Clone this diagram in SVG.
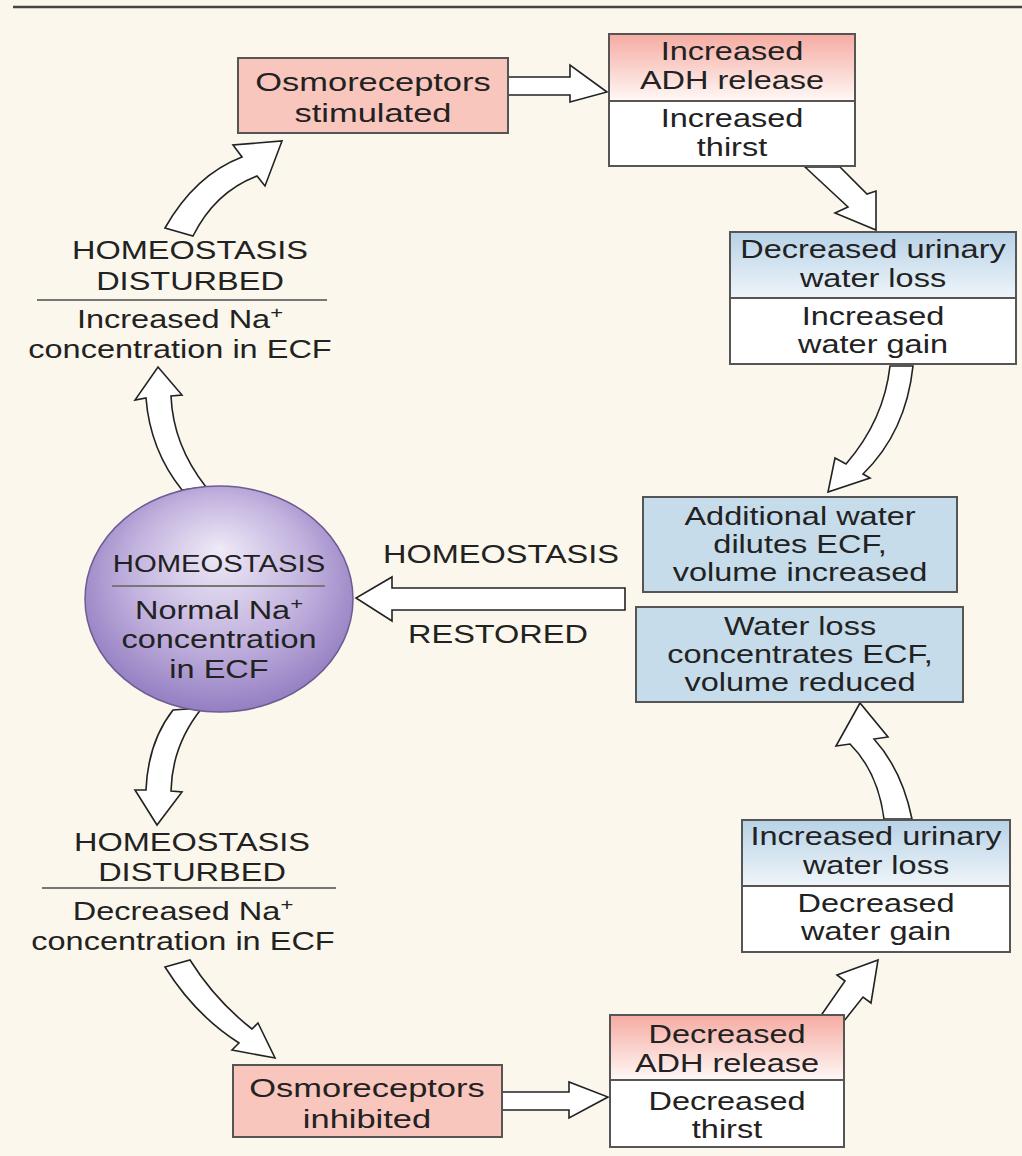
<svg xmlns="http://www.w3.org/2000/svg" width="1022" height="1156" viewBox="0 0 1022 1156">
<defs>
<linearGradient id="pinkTop" x1="0" y1="0" x2="0" y2="1"><stop offset="0" stop-color="#f5aba2"/><stop offset="1" stop-color="#fff8f6"/></linearGradient>
<linearGradient id="blueTop" x1="0" y1="0" x2="0" y2="1"><stop offset="0" stop-color="#b8d2e7"/><stop offset="1" stop-color="#eef5f9"/></linearGradient>
<radialGradient id="sphere" cx="0.5" cy="0.45" r="0.6" fx="0.5" fy="0.28"><stop offset="0" stop-color="#efeaf7"/><stop offset="0.55" stop-color="#c2b2de"/><stop offset="1" stop-color="#8c76bd"/></radialGradient>
<style>
.t{font-family:"Liberation Sans",Arial,Helvetica,sans-serif;font-size:25px;fill:#222;text-anchor:middle}
.big{font-size:26.5px}
.box{stroke:#555;stroke-width:2}
.pink{fill:#f9c6bd}
.blue{fill:#c6dcea}
.white{fill:#fff}
.div{stroke:#555;stroke-width:2}
.rule{stroke:#777;stroke-width:2}
.arrow{fill:#fff;stroke:#222;stroke-width:1.6;stroke-linejoin:miter}
</style>
</defs>
<rect x="0" y="0" width="1022" height="1156" fill="#fbf7ec"/>
<line x1="13" y1="7" x2="1022" y2="7" stroke="#444" stroke-width="2.5"/>

<g id="connectors">
<path class="arrow" d="M508,77 L570,77 L570,65 L607,92 L570,102 L570,95 L508,95 Z"/>
<path class="arrow" d="M805,167 L848,207 L835,213 L876,230 L876,191 L867,194 L840,167 Z"/>
<path class="arrow" d="M890,366 L913,366 Q906,432 863,474 L870,478 L828,492 L835,458 L846,464 Q884,420 890,366 Z"/>
<path class="arrow" d="M625,588 L392,588 L392,577 L356,598 L392,621 L392,610 L625,610 Z"/>
<path class="arrow" d="M182,490 Q150,450 146,398 L135,400 L158,367 L182,395 L171,396 Q173,445 206,487 Z"/>
<path class="arrow" d="M165,228 Q195,175 242,157 L233,145 L282,141 L265,186 L257,176 Q215,192 193,236 Z"/>
<path class="arrow" d="M173,710 L202,708 Q172,745 171,791 L182,792 L157,825 L135,790 L146,790 Q148,742 173,710 Z"/>
<path class="arrow" d="M165,967 L190,960 Q215,1000 252,1029 L258,1023 L275,1058 L232,1050 L239,1043 Q195,1015 165,967 Z"/>
<path class="arrow" d="M502,1092 L569,1092 L569,1082 L608,1097 L569,1118 L569,1110 L502,1110 Z"/>
<path class="arrow" d="M820,1017 L845,981 L837,975 L878,960 L871,1003 L863,997 L844,1021 Z"/>
<path class="arrow" d="M884,819 Q878,772 850,744 L836,746 L860,703 L888,737 L874,739 Q902,770 912,819 Z"/>
</g>

<g id="restored-label">
<text class="t" transform="translate(501,563) scale(1.3,1)">HOMEOSTASIS</text>
<text class="t" transform="translate(498,643) scale(1.3,1)">RESTORED</text>
</g>

<g id="homeostasis">
<ellipse cx="219" cy="599" rx="134" ry="113" fill="url(#sphere)" stroke="#6d5c92" stroke-width="1.5"/>
<text class="t" style="font-size:24px" transform="translate(219,572) scale(1.22,1)">HOMEOSTASIS</text>
<line class="rule" x1="112" y1="586" x2="325" y2="586" stroke="#444"/>
<text class="t" transform="translate(219,619) scale(1.3,1)">Normal Na<tspan font-size="17" dy="-10">+</tspan></text>
<text class="t" transform="translate(219,648) scale(1.3,1)">concentration</text>
<text class="t" transform="translate(219,678) scale(1.3,1)">in ECF</text>
</g>

<g id="disturbed-up">
<text class="t" transform="translate(190,259) scale(1.3,1)">HOMEOSTASIS</text>
<text class="t" transform="translate(190,290) scale(1.3,1)">DISTURBED</text>
<line class="rule" x1="37" y1="300" x2="327" y2="300"/>
<text class="t" transform="translate(180,328) scale(1.3,1)">Increased Na<tspan font-size="17" dy="-10">+</tspan></text>
<text class="t" transform="translate(180,358) scale(1.3,1)">concentration in ECF</text>
</g>

<g id="disturbed-down">
<text class="t" transform="translate(192,851) scale(1.3,1)">HOMEOSTASIS</text>
<text class="t" transform="translate(192,881) scale(1.3,1)">DISTURBED</text>
<line class="rule" x1="42" y1="888" x2="336" y2="888"/>
<text class="t" transform="translate(183,920) scale(1.3,1)">Decreased Na<tspan font-size="17" dy="-10">+</tspan></text>
<text class="t" transform="translate(183,950) scale(1.3,1)">concentration in ECF</text>
</g>

<g id="osmo-stimulated">
<rect class="box pink" x="238" y="58" width="270" height="75"/>
<text class="t big" transform="translate(373,91) scale(1.3,1)">Osmoreceptors</text>
<text class="t big" transform="translate(373,122) scale(1.3,1)">stimulated</text>
</g>

<g id="adh-increased">
<rect x="609" y="34" width="246" height="67" fill="url(#pinkTop)"/>
<rect class="white" x="609" y="101" width="246" height="65"/>
<rect class="box" x="609" y="34" width="246" height="132" fill="none"/>
<line class="div" x1="609" y1="101" x2="855" y2="101"/>
<text class="t" transform="translate(732,60) scale(1.3,1)">Increased</text>
<text class="t" transform="translate(732,89) scale(1.3,1)">ADH release</text>
<text class="t" transform="translate(732,127) scale(1.3,1)">Increased</text>
<text class="t" transform="translate(732,156) scale(1.3,1)">thirst</text>
</g>

<g id="urinary-decreased">
<rect x="730" y="232" width="286" height="66" fill="url(#blueTop)"/>
<rect class="white" x="730" y="298" width="286" height="66"/>
<rect class="box" x="730" y="232" width="286" height="132" fill="none"/>
<line class="div" x1="730" y1="298" x2="1016" y2="298"/>
<text class="t" transform="translate(873,258) scale(1.3,1)">Decreased urinary</text>
<text class="t" transform="translate(873,287) scale(1.3,1)">water loss</text>
<text class="t" transform="translate(873,325) scale(1.3,1)">Increased</text>
<text class="t" transform="translate(873,353) scale(1.3,1)">water gain</text>
</g>

<g id="additional-water">
<rect class="box blue" x="643" y="497" width="314" height="95"/>
<text class="t" transform="translate(800,525) scale(1.3,1)">Additional water</text>
<text class="t" transform="translate(800,553) scale(1.3,1)">dilutes ECF,</text>
<text class="t" transform="translate(800,581) scale(1.3,1)">volume increased</text>
</g>

<g id="water-loss">
<rect class="box blue" x="636" y="607" width="327" height="95"/>
<text class="t" transform="translate(800,635) scale(1.3,1)">Water loss</text>
<text class="t" transform="translate(800,663) scale(1.3,1)">concentrates ECF,</text>
<text class="t" transform="translate(800,691) scale(1.3,1)">volume reduced</text>
</g>

<g id="urinary-increased">
<rect x="742" y="820" width="268" height="66" fill="url(#blueTop)"/>
<rect class="white" x="742" y="886" width="268" height="66"/>
<rect class="box" x="742" y="820" width="268" height="132" fill="none"/>
<line class="div" x1="742" y1="886" x2="1010" y2="886"/>
<text class="t" transform="translate(876,845) scale(1.3,1)">Increased urinary</text>
<text class="t" transform="translate(876,874) scale(1.3,1)">water loss</text>
<text class="t" transform="translate(876,912) scale(1.3,1)">Decreased</text>
<text class="t" transform="translate(876,940) scale(1.3,1)">water gain</text>
</g>

<g id="osmo-inhibited">
<rect class="box pink" x="233" y="1065" width="269" height="72"/>
<text class="t big" transform="translate(367,1097) scale(1.3,1)">Osmoreceptors</text>
<text class="t big" transform="translate(367,1128) scale(1.3,1)">inhibited</text>
</g>

<g id="adh-decreased">
<rect x="610" y="1015" width="234" height="65" fill="url(#pinkTop)"/>
<rect class="white" x="610" y="1080" width="234" height="67"/>
<rect class="box" x="610" y="1015" width="234" height="132" fill="none"/>
<line class="div" x1="610" y1="1080" x2="844" y2="1080"/>
<text class="t" transform="translate(727,1043) scale(1.3,1)">Decreased</text>
<text class="t" transform="translate(727,1072) scale(1.3,1)">ADH release</text>
<text class="t" transform="translate(727,1110) scale(1.3,1)">Decreased</text>
<text class="t" transform="translate(727,1138) scale(1.3,1)">thirst</text>
</g>
</svg>
